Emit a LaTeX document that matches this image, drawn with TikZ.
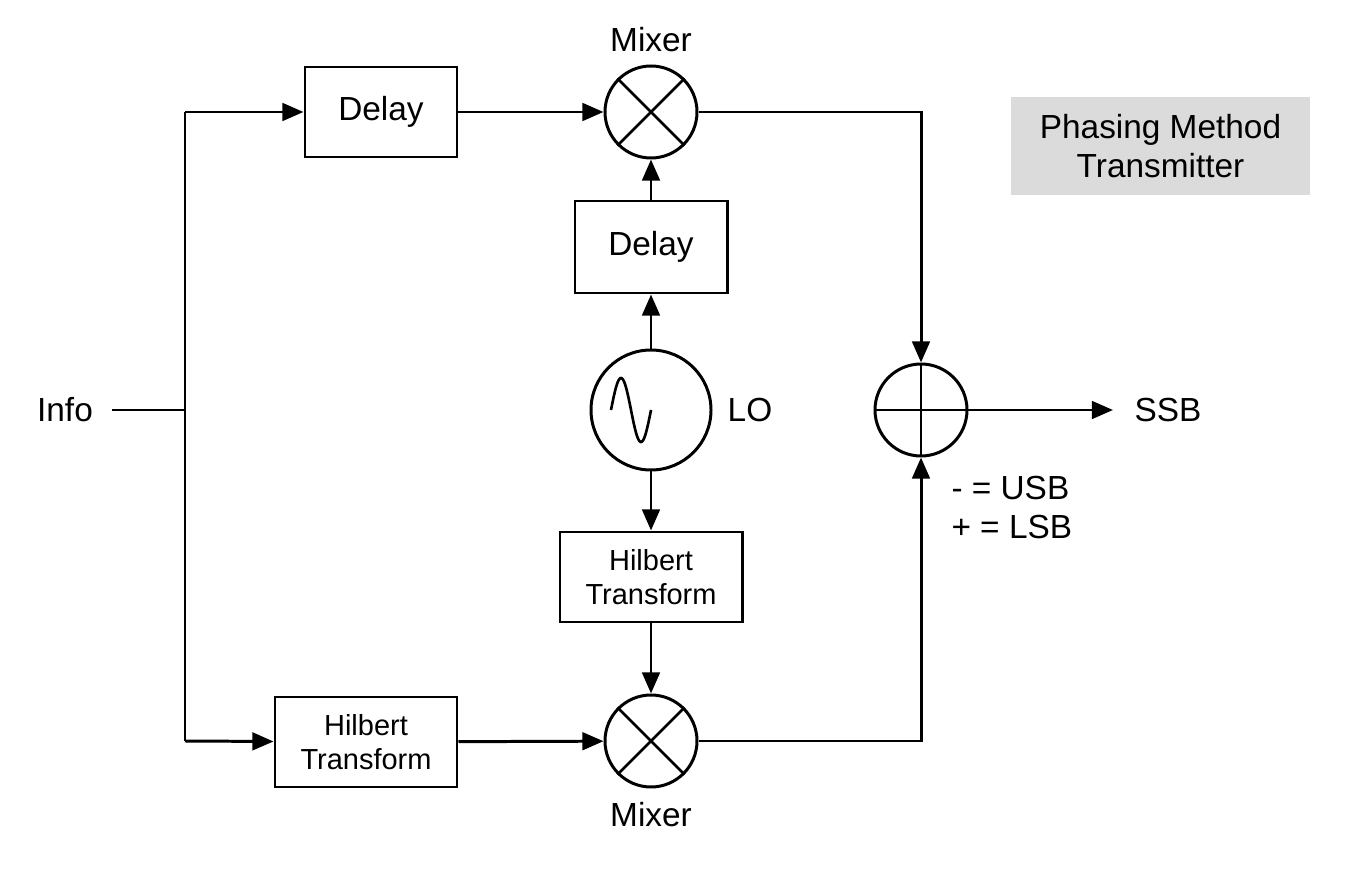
\documentclass[tikz,border=0pt]{standalone}
\usepackage{fontspec}
\setmainfont{Liberation Sans}
\usetikzlibrary{arrows.meta}
\begin{document}
\begin{tikzpicture}[x=0.02cm,y=-0.02cm,line width=1.7pt,
  box/.style={draw,minimum width=#1,inner sep=0pt,font=\fontsize{19}{22}\selectfont},
  hb/.style={draw,minimum width=182*0.02cm,minimum height=90*0.02cm,inner sep=0pt,align=center,font=\fontsize{16.5}{19.5}\selectfont},
  circ/.style={draw,circle,minimum size=92*0.02cm,inner sep=0pt},
  lbl/.style={font=\fontsize{19}{22}\selectfont,inner sep=0pt},
  arr/.style={-{Triangle[length=12pt,width=10pt]}}]
\useasboundingbox (0,0) rectangle (1353,874);
\node[lbl] (info) at (65,410) {Info};
\coordinate (j) at (185,410);
\coordinate (jt) at (185,112);
\coordinate (jb) at (185,741);
\node[box=152*0.02cm,minimum height=90*0.02cm] (d1) at (381,112) {Delay};
\node[circ] (m1) at (651,112) {};
\draw[line width=1.5pt] (m1.north west)--(m1.south east) (m1.north east)--(m1.south west);
\node[lbl] (m1l) at (651,40) {Mixer};
\node[box=152*0.02cm,minimum height=92*0.02cm] (d2) at (651,247) {Delay};
\node[draw,circle,minimum size=120*0.02cm,inner sep=0pt] (lo) at (651,410) {};
\begin{scope}[shift={(lo.center)}]
\draw[line width=1.5pt,domain=0:360,samples=60,smooth,variable=\t] plot ({\t/9-40},{-32*sin(\t)});
\end{scope}
\node[lbl] (lol) at (750,410) {LO};
\node[hb] (h1) at (651,577) {Hilbert\\Transform};
\node[circ] (m2) at (651,741) {};
\draw[line width=1.5pt] (m2.north west)--(m2.south east) (m2.north east)--(m2.south west);
\node[lbl] (m2l) at (651,815) {Mixer};
\node[hb] (h2) at (366,742) {Hilbert\\Transform};
\node[circ] (s) at (921,410) {};
\draw[line width=1.5pt] (s.north)--(s.south) (s.west)--(s.east);
\coordinate (ct) at (921,112);
\coordinate (cb) at (921,741);
\coordinate (out) at (1113,410);
\node[lbl] (ssb) at (1168,410) {SSB};
\node[lbl,align=left,anchor=north west] (sb) at (950,475) {- = USB\\+ = LSB};
\node[fill=black!14,minimum width=299*0.02cm,minimum height=98*0.02cm,align=center,inner sep=0pt,font=\fontsize{19}{22}\selectfont] (title) at (1160.5,146) {Phasing Method\\Transmitter};
\coordinate (is) at (112,410);
\draw (is) -- (j);
\draw (jt)--(jb);
\draw[arr] (jt)--(d1);
\draw[arr] (d1)--(m1);
\draw[arr] (d2)--(m1);
\draw[arr] (lo)--(d2);
\draw[arr] (lo)--(h1);
\draw[arr] (h1)--(m2);
\draw[arr] (jb)--(h2);
\draw[arr] (h2)--(m2);
\draw[arr] (m1.east)--(ct)--(s.north);
\draw[arr] (m2.east)--(cb)--(s.south);
\draw[arr] (s.east)--(out);
\end{tikzpicture}
\end{document}
